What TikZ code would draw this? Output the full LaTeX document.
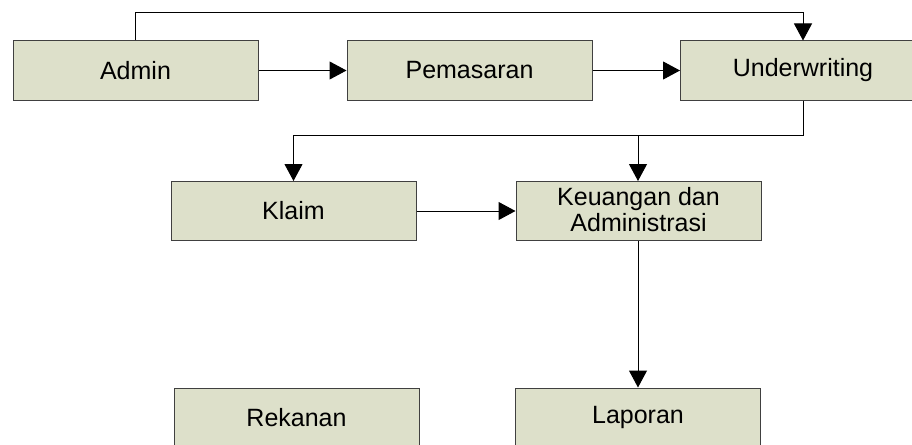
\documentclass[tikz,border=0pt]{standalone}
\usepackage{fontspec}
\setmainfont{Liberation Sans}
\usetikzlibrary{arrows.meta}
\definecolor{boxfill}{HTML}{DDE0CA}
\definecolor{boxline}{HTML}{404040}
\tikzset{
  unitbox/.style={draw=boxline, line width=1pt, fill=boxfill, minimum width=245pt, minimum height=59pt, inner sep=0pt, align=center, font=\fontsize{25}{23}\selectfont},
  conn/.style={draw=black, line width=1pt, -{Triangle[length=17pt,width=18pt]}},
  plainconn/.style={draw=black, line width=1pt}
}
\begin{document}
\begin{tikzpicture}[x=1pt,y=-1pt]
\useasboundingbox (0,0) rectangle (912,444);
\clip (0,0) rectangle (912,444);
\fill[white] (0,0) rectangle (912,444);
\node[unitbox] (admin) at (135.5,70.5) {Admin};
\node[unitbox] (pemasaran) at (469.5,70.5) {Pemasaran};
\node[unitbox] (underw) at (803,70.5) {Underwriting};
\node[unitbox] (klaim) at (293.5,211) {Klaim};
\node[unitbox] (keu) at (638.5,211) {\raisebox{3pt}{\shortstack{Keuangan dan\\Administrasi}}};
\node[unitbox] (rekanan) at (296.5,417.5) {Rekanan};
\node[unitbox] (laporan) at (638,417.5) {Laporan};
\coordinate (t1) at (135.5,13);
\coordinate (t2) at (803,13);
\coordinate (m1) at (803,135);
\coordinate (m2) at (293.5,135);
\coordinate (m3) at (638,135);
\draw[conn] (admin.north -| t1) -- (t1) -- (t2) -- (underw.north -| t2);
\draw[conn] (admin) -- (pemasaran);
\draw[conn] (pemasaran) -- (underw);
\draw[conn] (underw.south -| m1) -- (m1) -- (m2) -- (klaim.north -| m2);
\draw[conn] (m3) -- (keu.north -| m3);
\draw[conn] (klaim) -- (keu);
\draw[conn] (keu.south -| m3) -- (laporan.north -| m3);
\end{tikzpicture}
\end{document}
